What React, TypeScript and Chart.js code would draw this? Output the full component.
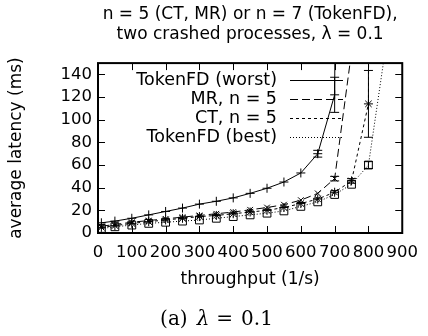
import React, { useEffect, useRef } from "react";
import { Chart, registerables } from "chart.js";
Chart.register(...registerables);

// ---- data ----
const throughputWorst = [10, 50, 100, 150, 200, 250, 300, 350, 400, 450, 500, 550, 600, 650, 700, 710];
const latencyWorst = [9, 10.5, 13, 16, 19, 22, 25.5, 28, 31, 35, 39.5, 45, 53, 70, 122, 600];
const errorWorst = [0, 0, 0, 0, 0, 0, 0, 0, 0, 0, 0, 0, 0, 3, 15.5, 0];

const throughputMR = [10, 50, 100, 150, 200, 250, 300, 350, 400, 450, 500, 550, 600, 650, 700, 750];
const latencyMR = [6, 7.5, 9.5, 11, 12.5, 14, 15.5, 17, 18.5, 20.5, 22.5, 25, 29, 35, 48, 160];
const errorMR = [0, 0, 0, 0, 0, 0, 0, 0, 0, 0, 0, 0, 0, 0, 2, 0];

const throughputCT = [10, 50, 100, 150, 200, 250, 300, 350, 400, 450, 500, 550, 600, 650, 700, 750, 800, 805];
const latencyCT = [5, 6.5, 8.5, 10, 11.5, 13, 14.5, 15.5, 17, 18.5, 20, 22.5, 26, 30, 36, 46, 114, 600];
const errorCT = [0, 0, 0, 0, 0, 0, 0, 0, 0, 0, 0, 0, 0, 0, 0, 2, 29.5, 0];

const throughputBest = [10, 50, 100, 150, 200, 250, 300, 350, 400, 450, 500, 550, 600, 650, 700, 750, 800, 850];
const latencyBest = [4, 5.5, 7, 8.5, 9.5, 10.5, 11.5, 13, 14.5, 16, 17.5, 19.5, 23.5, 27.5, 34, 43, 60, 162];
const errorBest = [0, 0, 0, 0, 0, 0, 0, 0, 0, 0, 0, 0, 0, 0, 0, 0, 3, 0];

const seriesLabels = ["TokenFD (worst)", "MR, n = 5", "CT, n = 5", "TokenFD (best)"];
const xTickValues = [0, 100, 200, 300, 400, 500, 600, 700, 800, 900];
const yTickValues = [0, 20, 40, 60, 80, 100, 120, 140];
const titleLines = ["n = 5 (CT, MR) or n = 7 (TokenFD),", "two crashed processes, λ = 0.1"];
const xAxisTitle = "throughput (1/s)";
const yAxisTitle = "average latency (ms)";
const captionParts = ["(a)", "λ", "=", "0.1"];

const SANS = '"DejaVu Sans", sans-serif';
const SERIF = '"DejaVu Serif", serif';

const toPoints = (xs: number[], ys: number[]) => xs.map((x, i) => ({ x, y: ys[i] }));

const errorBarPlugin = {
  id: "errorBars",
  afterDatasetsDraw(chart: any) {
    const { ctx, chartArea, scales } = chart;
    ctx.save();
    ctx.beginPath();
    ctx.rect(chartArea.left, chartArea.top, chartArea.right - chartArea.left, chartArea.bottom - chartArea.top);
    ctx.clip();
    ctx.strokeStyle = "#000";
    ctx.lineWidth = 1;
    ctx.setLineDash([]);
    chart.data.datasets.forEach((ds: any) => {
      const errs: number[] = ds.errors || [];
      ds.data.forEach((p: any, j: number) => {
        const e = errs[j];
        if (!e) return;
        const x = scales.x.getPixelForValue(p.x);
        const y1 = scales.y.getPixelForValue(p.y + e);
        const y2 = scales.y.getPixelForValue(p.y - e);
        ctx.beginPath();
        ctx.moveTo(x, y1);
        ctx.lineTo(x, y2);
        ctx.moveTo(x - 4.5, y1);
        ctx.lineTo(x + 4.5, y1);
        ctx.moveTo(x - 4.5, y2);
        ctx.lineTo(x + 4.5, y2);
        ctx.stroke();
      });
    });
    ctx.restore();
  },
};

const framePlugin = {
  id: "frameTicks",
  afterDraw(chart: any) {
    const { ctx, chartArea, scales } = chart;
    const { left, right, top, bottom } = chartArea;
    ctx.save();
    ctx.strokeStyle = "#000";
    ctx.setLineDash([]);
    ctx.lineWidth = 1;
    const tl = 7;
    ctx.beginPath();
    xTickValues.forEach((v) => {
      const x = Math.round(scales.x.getPixelForValue(v)) + 0.5;
      ctx.moveTo(x, bottom);
      ctx.lineTo(x, bottom - tl);
      ctx.moveTo(x, top);
      ctx.lineTo(x, top + tl);
    });
    yTickValues.forEach((v) => {
      const y = Math.round(scales.y.getPixelForValue(v)) + 0.5;
      ctx.moveTo(left, y);
      ctx.lineTo(left + tl, y);
      ctx.moveTo(right, y);
      ctx.lineTo(right - tl, y);
    });
    ctx.stroke();
    ctx.lineWidth = 2;
    ctx.strokeRect(left, top, right - left, bottom - top);
    ctx.restore();
  },
};

const legendPlugin = {
  id: "insideLegend",
  afterDraw(chart: any) {
    const { ctx } = chart;
    const textRight = 277;
    const sampleLeft = 290;
    const sampleRight = 343;
    const rowTop = 80;
    const rowGap = 19;
    ctx.save();
    ctx.font = `17.5px ${SANS}`;
    ctx.fillStyle = "#000";
    ctx.textAlign = "right";
    ctx.textBaseline = "middle";
    chart.data.datasets.forEach((ds: any, i: number) => {
      const y = rowTop + i * rowGap;
      ctx.fillText(ds.label, textRight, y);
      ctx.strokeStyle = "#000";
      ctx.lineWidth = 1;
      ctx.setLineDash(ds.borderDash || []);
      ctx.beginPath();
      ctx.moveTo(sampleLeft, Math.round(y) + 0.5);
      ctx.lineTo(sampleRight, Math.round(y) + 0.5);
      ctx.stroke();
    });
    ctx.restore();
  },
};

const captionPlugin = {
  id: "caption",
  afterDraw(chart: any) {
    const { ctx, width } = chart;
    const y = 320;
    const gaps = [9, 7, 8];
    const fonts = [`20px ${SERIF}`, `italic 20px ${SERIF}`, `20px ${SERIF}`, `20px ${SERIF}`];
    ctx.save();
    ctx.fillStyle = "#000";
    ctx.textBaseline = "middle";
    ctx.textAlign = "left";
    const widths = captionParts.map((t, i) => {
      ctx.font = fonts[i];
      return ctx.measureText(t).width;
    });
    const total = widths.reduce((a, b) => a + b, 0) + gaps.reduce((a, b) => a + b, 0);
    let x = width / 2 + 2.5 - total / 2;
    captionParts.forEach((t, i) => {
      ctx.font = fonts[i];
      ctx.fillText(t, x, y);
      x += widths[i] + (gaps[i] || 0);
    });
    ctx.restore();
  },
};

export default function App() {
  const canvasRef = useRef<HTMLCanvasElement | null>(null);

  useEffect(() => {
    if (!canvasRef.current) return;
    const mk = (label: string, xs: number[], ys: number[], errs: number[], dash: number[], style: string, r: number) => ({
      label,
      data: toPoints(xs, ys),
      errors: errs,
      borderColor: "#000",
      borderWidth: 1,
      borderDash: dash,
      pointStyle: style,
      pointRadius: r,
      pointBorderColor: "#000",
      pointBackgroundColor: "rgba(0,0,0,0)",
      pointBorderWidth: 1,
      tension: 0,
      fill: false,
    });
    const chart = new Chart(canvasRef.current, {
      type: "line",
      data: {
        datasets: [
          mk(seriesLabels[0], throughputWorst, latencyWorst, errorWorst, [], "cross", 4.5),
          mk(seriesLabels[1], throughputMR, latencyMR, errorMR, [8, 4], "crossRot", 4),
          mk(seriesLabels[2], throughputCT, latencyCT, errorCT, [3, 3], "star", 4.5),
          mk(seriesLabels[3], throughputBest, latencyBest, errorBest, [1, 2], "rect", 5.5),
        ] as any,
      },
      options: {
        responsive: false,
        animation: false,
        devicePixelRatio: 1,
        layout: { padding: { left: 0, right: 24, top: 0, bottom: 0 } },
        plugins: {
          legend: { display: false },
          tooltip: { enabled: false },
          title: {
            display: true,
            text: titleLines,
            fullSize: false,
            color: "#000",
            font: { family: SANS, size: 17, weight: "normal", lineHeight: 1.15 },
            padding: { top: 5, bottom: 19 },
          },
        },
        scales: {
          x: {
            type: "linear",
            min: 0,
            max: 900,
            grid: { display: false, drawTicks: false },
            border: { display: false },
            afterBuildTicks: (s: any) => {
              s.ticks = xTickValues.map((v) => ({ value: v }));
            },
            afterFit: (s: any) => {
              s.height = 103;
            },
            ticks: {
              color: "#000",
              font: { family: SANS, size: 16.5 },
              padding: 10,
              maxRotation: 0,
              autoSkip: false,
              includeBounds: false,
            },
            title: {
              display: true,
              text: xAxisTitle,
              color: "#000",
              font: { family: SANS, size: 17 },
              padding: { top: 0, bottom: 46 },
            },
          },
          y: {
            type: "linear",
            min: 0,
            max: 150,
            grid: { display: false, drawTicks: false },
            border: { display: false },
            afterBuildTicks: (s: any) => {
              s.ticks = yTickValues.map((v) => ({ value: v }));
            },
            afterFit: (s: any) => {
              s.width = 98;
            },
            ticks: {
              color: "#000",
              font: { family: SANS, size: 16.5 },
              padding: 6,
              autoSkip: false,
              includeBounds: false,
            },
            title: {
              display: true,
              text: yAxisTitle,
              color: "#000",
              font: { family: SANS, size: 17 },
              padding: { top: 6, bottom: 0 },
            },
          },
        },
      } as any,
      plugins: [errorBarPlugin, framePlugin, legendPlugin, captionPlugin],
    });
    return () => chart.destroy();
  }, []);

  return (
    <div style={{ position: "absolute", left: 0, top: 0, width: 428, height: 336, background: "#fff" }}>
      <canvas ref={canvasRef} width={428} height={336} style={{ width: 428, height: 336, display: "block" }} />
    </div>
  );
}
